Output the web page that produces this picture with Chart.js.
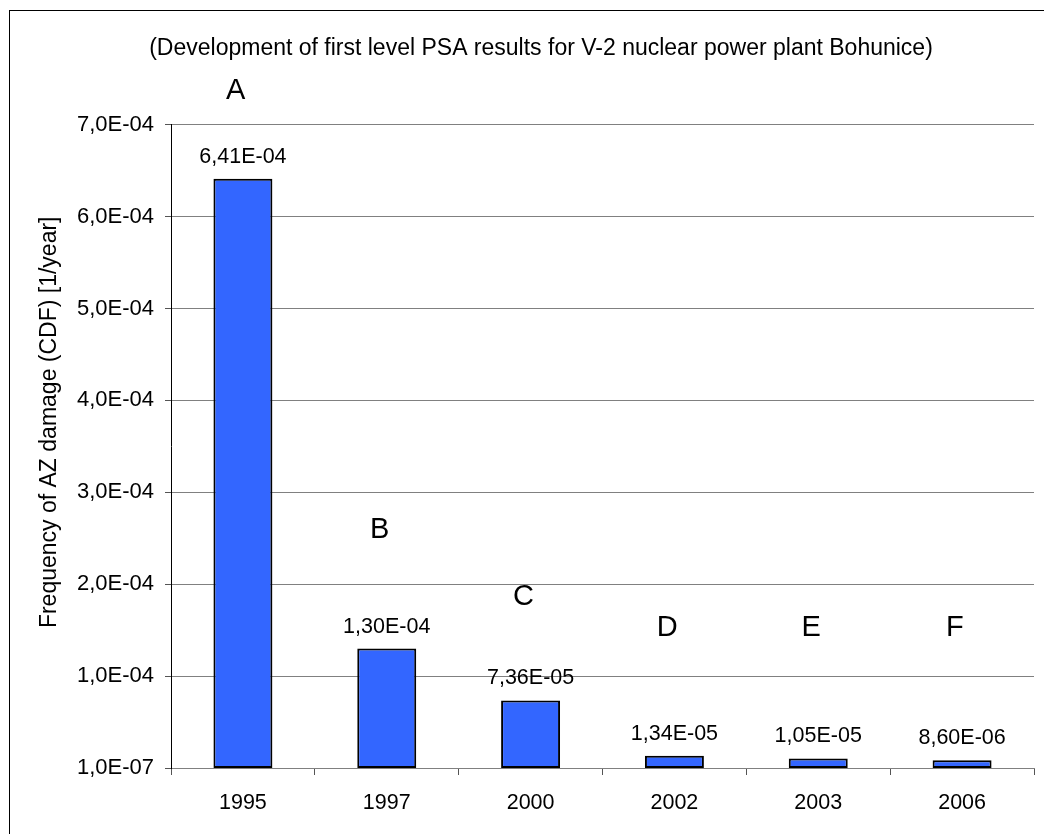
<!DOCTYPE html>
<html>
<head>
<meta charset="utf-8">
<script src="https://cdn.jsdelivr.net/npm/chart.js@4.4.1/dist/chart.umd.min.js"></script>
<style>
  html, body { margin: 0; padding: 0; background: #ffffff; }
  #wrap { position: relative; width: 1044px; height: 834px; overflow: hidden; }
  #frame { position: absolute; left: 9px; top: 10px; width: 1100px; height: 900px; border: 1px solid #000; box-sizing: border-box; pointer-events: none; }
  canvas { position: absolute; left: 0; top: 0; }
</style>
</head>
<body>
<div id="wrap">
  <div id="frame"></div>
  <canvas id="c" width="1044" height="834"></canvas>
</div>
<script>
// ---- data ----
const categories = ['1995', '1997', '2000', '2002', '2003', '2006'];
const cdfValues = [6.41e-4, 1.30e-4, 7.36e-5, 1.34e-5, 1.05e-5, 8.60e-6];
const valueLabels = ['6,41E-04', '1,30E-04', '7,36E-05', '1,34E-05', '1,05E-05', '8,60E-06'];
const tickValues = [1e-7, 1e-4, 2e-4, 3e-4, 4e-4, 5e-4, 6e-4, 7e-4];
const tickLabels = ['1,0E-07', '1,0E-04', '2,0E-04', '3,0E-04', '4,0E-04', '5,0E-04', '6,0E-04', '7,0E-04'];
const letterLabels = ['A', 'B', 'C', 'D', 'E', 'F'];
const letterLevels = [7.37e-4, 2.59e-4, 1.86e-4, 1.52e-4, 1.52e-4, 1.52e-4];
const titleText = '(Development of first level PSA results for V-2 nuclear power plant Bohunice)';
const yTitleText = 'Frequency of AZ damage (CDF) [1/year]';

const FONT = '"Liberation Sans", Arial, sans-serif';

const annotPlugin = {
  id: 'annot',
  afterDatasetsDraw(chart) {
    const ctx = chart.ctx;
    const meta = chart.getDatasetMeta(0);
    const xs = chart.scales.x, ys = chart.scales.y;
    const area = chart.chartArea;
    ctx.save();
    ctx.fillStyle = '#000';
    ctx.textAlign = 'center';
    ctx.textBaseline = 'alphabetic';
    ctx.font = '21.5px ' + FONT;
    meta.data.forEach((bar, i) => {
      ctx.fillText(valueLabels[i], bar.x, bar.y - 16);
    });
    ctx.font = '29px ' + FONT;
    ctx.textBaseline = 'middle';
    const step = xs.getPixelForValue(1) - xs.getPixelForValue(0);
    letterLabels.forEach((t, i) => {
      const x = xs.getPixelForValue(i) - 0.05 * step;
      ctx.fillText(t, x, ys.getPixelForValue(letterLevels[i]));
    });
    // y axis title
    ctx.font = '23px ' + FONT;
    ctx.translate(area.left - 121, (area.top + area.bottom) / 2 - 24);
    ctx.rotate(-Math.PI / 2);
    ctx.textBaseline = 'middle';
    ctx.fillText(yTitleText, 0, 0);
    ctx.restore();
  }
};

new Chart(document.getElementById('c'), {
  type: 'bar',
  data: {
    labels: categories,
    datasets: [{
      data: cdfValues,
      backgroundColor: '#3366FF',
      borderColor: '#000000',
      borderWidth: 2,
      borderSkipped: false,
      barPercentage: 0.41,
      categoryPercentage: 1.0
    }]
  },
  options: {
    responsive: false,
    animation: false,
    devicePixelRatio: 1,
    layout: { padding: { left: 48, right: 10, top: 0, bottom: 0 } },
    plugins: {
      legend: { display: false },
      tooltip: { enabled: false },
      title: {
        display: true,
        text: titleText,
        color: '#000',
        font: { family: FONT, size: 23, weight: 'normal' },
        padding: { top: 35, bottom: 62 }
      }
    },
    scales: {
      x: {
        grid: {
          display: true,
          drawOnChartArea: false,
          drawTicks: true,
          tickLength: 7,
          offset: true,
          color: '#555'
        },
        border: { display: true, color: '#808080', width: 1 },
        ticks: { color: '#000', font: { family: FONT, size: 21.5 }, padding: 15, maxRotation: 0 },
        afterFit(s) { s.height = 66; }
      },
      y: {
        min: 1e-7,
        max: 7e-4,
        afterBuildTicks(s) { s.ticks = tickValues.map(v => ({ value: v })); },
        grid: {
          color: '#808080',
          lineWidth: 1,
          drawTicks: true,
          tickLength: 6,
          tickColor: '#555'
        },
        border: { display: true, color: '#000', width: 1 },
        ticks: {
          color: '#000',
          font: { family: FONT, size: 22 },
          padding: 11,
          callback(v, i) { return tickLabels[i]; }
        },
        afterFit(s) { s.width = 123; }
      }
    }
  },
  plugins: [annotPlugin]
});
</script>
</body>
</html>
